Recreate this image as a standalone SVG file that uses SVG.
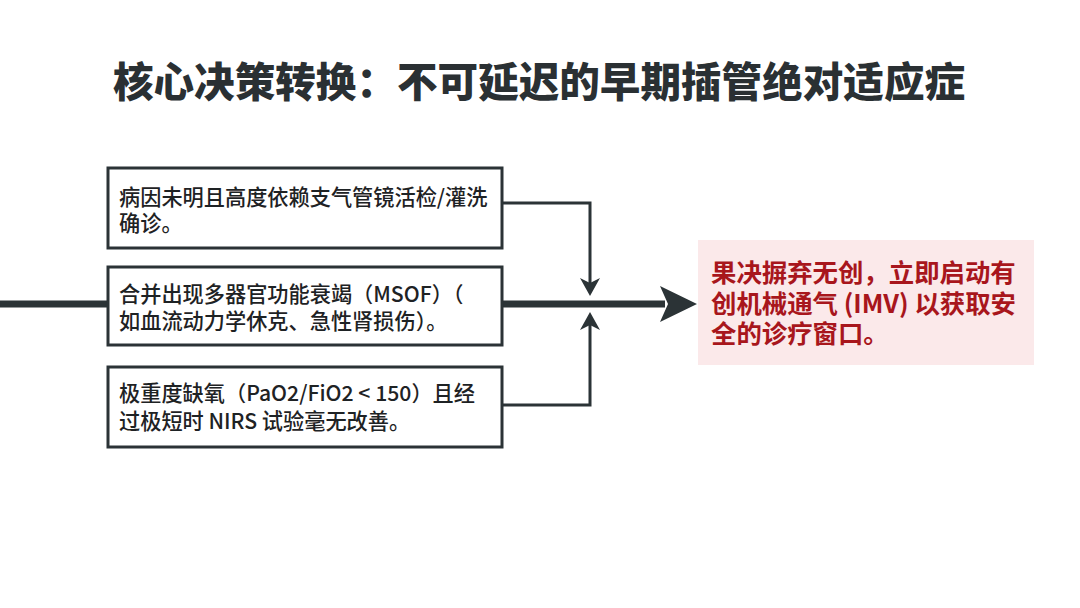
<svg xmlns="http://www.w3.org/2000/svg" width="1080" height="608" viewBox="0 0 1080 608">
<style>
.t{font-family:"Noto Sans CJK SC","Noto Sans",sans-serif;}
.title{font-size:40.6px;font-weight:900;fill:#2a3033;}
.box{fill:#fff;stroke:#2b3336;stroke-width:3;}
.bt{font-size:21.2px;font-weight:500;fill:#1e2224;}
.rt{font-size:25.4px;font-weight:700;fill:#a8161c;}
.ln{fill:none;stroke:#2b3336;stroke-width:3;}
</style>
<rect width="1080" height="608" fill="#ffffff"/>
<text class="t title" x="539" y="97" text-anchor="middle">核心决策转换：不可延迟的早期插管绝对适应症</text>
<g id="connectors">
<line x1="0" y1="304" x2="665" y2="304" stroke="#2b3336" stroke-width="7"/>
<path d="M660,286 L697,304 L660,322 L668,304 Z" fill="#2b3336"/>
<path class="ln" d="M502,203 H590 V288"/>
<path d="M580,278 L590,296 L600,278 L590,283 Z" fill="#2b3336"/>
<path class="ln" d="M502,405 H590 V320"/>
<path d="M580,330 L590,312 L600,330 L590,325 Z" fill="#2b3336"/>
</g>
<g id="node1">
<rect class="box" x="108" y="168" width="394" height="80"/>
<text class="t bt" x="119" y="205">病因未明且高度依赖支气管镜活检/灌洗</text>
<text class="t bt" x="119" y="231">确诊。</text>
</g>
<g id="node2">
<rect class="box" x="108" y="267" width="394" height="78"/>
<text class="t bt" x="119" y="302">合并出现多器官功能衰竭（MSOF）（</text>
<text class="t bt" x="119" y="329">如血流动力学休克、急性肾损伤）。</text>
</g>
<g id="node3">
<rect class="box" x="108" y="367" width="394" height="80"/>
<text class="t bt" x="119" y="401">极重度缺氧（PaO2/FiO2 &lt; 150）且经</text>
<text class="t bt" x="119" y="429">过极短时 NIRS 试验毫无改善。</text>
</g>
<g id="node4">
<rect x="698" y="240" width="336" height="125" fill="#fbe9ea"/>
<text class="t rt" x="711" y="282">果决摒弃无创，立即启动有</text>
<text class="t rt" x="711" y="313">创机械通气 (IMV) 以获取安</text>
<text class="t rt" x="711" y="343">全的诊疗窗口。</text>
</g>
</svg>
